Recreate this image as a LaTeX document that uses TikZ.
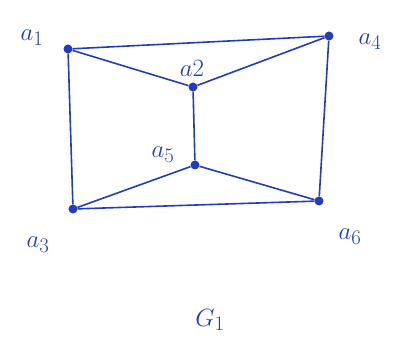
\documentclass[tikz,border=0pt]{standalone}
\definecolor{ink}{RGB}{35,60,185}
\tikzset{
  vtx/.style={circle,fill=ink,inner sep=0pt,minimum size=9pt},
  edge/.style={draw=ink,line width=1.6pt},
  lbl/.style={text=ink,font=\fontsize{30}{32}\selectfont}
}
\begin{document}
\begin{tikzpicture}[x=1pt,y=-1pt]
\useasboundingbox (0,0) rectangle (399,350);
\node[vtx] (a1) at (68,49) {};
\node[vtx] (a4) at (329,36) {};
\node[vtx] (a2) at (193,87) {};
\node[vtx] (a5) at (195,165) {};
\node[vtx] (a3) at (73,209) {};
\node[vtx] (a6) at (319,201) {};
\draw[edge] (a1) -- (a4);
\draw[edge] (a1) -- (a3);
\draw[edge] (a1) -- (a2);
\draw[edge] (a2) -- (a4);
\draw[edge] (a2) -- (a5);
\draw[edge] (a5) -- (a3);
\draw[edge] (a5) -- (a6);
\draw[edge] (a3) -- (a6);
\draw[edge] (a4) -- (a6);
\node[lbl] (l1) at (32,38) {$a_1$};
\node[lbl] (l4) at (370,42) {$a_4$};
\node[lbl] (l2) at (192,68) {$a2$};
\node[lbl] (l5) at (163,155) {$a_5$};
\node[lbl] (l3) at (38,245) {$a_3$};
\node[lbl] (l6) at (350,237) {$a_6$};
\node[lbl] (g) at (210,320) {$G_1$};
\end{tikzpicture}
\end{document}
